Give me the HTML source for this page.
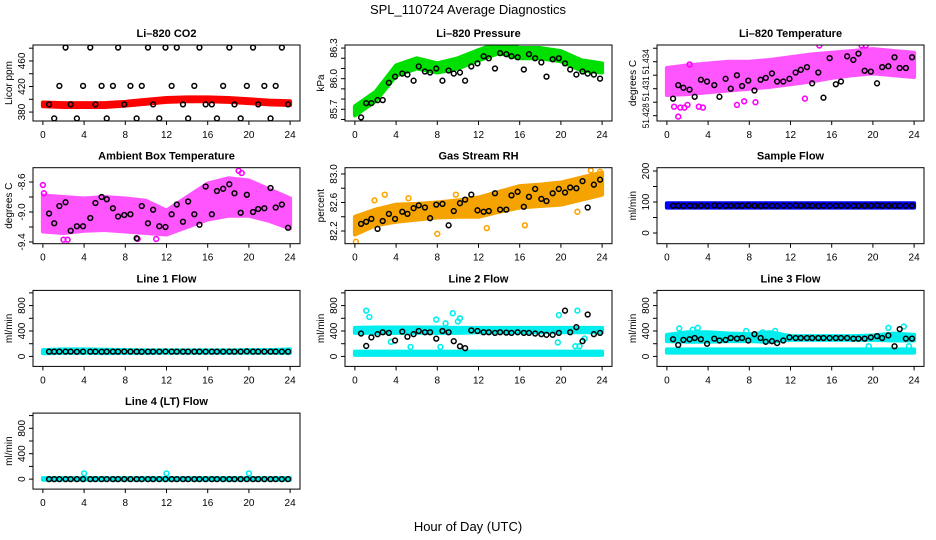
<!DOCTYPE html>
<html><head><meta charset="utf-8"><style>
html,body{margin:0;padding:0;background:#fff;}
svg{display:block;font-family:"Liberation Sans",Arial,sans-serif;}
</style></head><body>
<svg id="fig" width="936" height="540" viewBox="0 0 936 540" xmlns="http://www.w3.org/2000/svg">
<text x="468" y="14" font-size="13" text-anchor="middle">SPL_110724  Average Diagnostics</text>
<text x="468" y="531" font-size="13" text-anchor="middle">Hour of Day (UTC)</text>
</svg>
<script>
// ---- data ----
const bandHours = [0,2,4,6,8,10,12,14,16,18,20,22,24];
const avgHours = [0.6,1.1,1.6,2.2,2.7,3.3,3.9,4.6,5.1,5.7,6.2,6.8,7.3,7.9,8.5,9.1,9.6,10.2,10.7,11.3,11.9,12.5,13.0,13.6,14.1,14.7,15.2,15.8,16.4,16.9,17.5,18.1,18.6,19.2,19.8,20.4,20.9,21.5,22.1,22.6,23.2,23.8];

const co2BandLo = [389,388,388,388,390,393,396,397,397,396,394,392,391];
const co2BandHi = [395,394,394,394,396,399,402,403,403,402,400,398,397];
const co2Avg = [392,370,421,481,392,370,421,481,392,421,370,421,481,392,421,370,421,481,392,370,481,421,481,392,370,421,481,392,392,370,421,481,392,370,421,481,392,421,370,421,481,392];

const presBandLo = [85.64,85.78,86.03,86.10,86.06,86.10,86.18,86.25,86.20,86.20,86.17,86.08,86.06];
const presBandHi = [85.73,85.87,86.13,86.20,86.15,86.20,86.28,86.35,86.30,86.30,86.27,86.18,86.15];
const presAvg = [85.62,85.76,85.76,85.79,85.79,85.96,86.02,86.05,86.04,85.98,86.12,86.07,86.06,86.10,85.98,86.08,86.05,86.06,85.98,86.12,86.15,86.22,86.20,86.10,86.25,86.24,86.22,86.21,86.09,86.24,86.20,86.16,86.02,86.19,86.20,86.15,86.09,86.04,86.07,86.05,86.04,86.00];

const tempBandLo = [51.4303,51.4304,51.4306,51.4308,51.4310,51.4312,51.4315,51.4318,51.4322,51.4325,51.4327,51.4325,51.4323];
const tempBandHi = [51.4333,51.4336,51.4338,51.4340,51.4340,51.4342,51.4345,51.4348,51.4350,51.4352,51.4354,51.4352,51.4350];
const tempAvg = [51.4299,51.4314,51.4311,51.4309,51.4301,51.4320,51.4318,51.4314,51.4301,51.4321,51.4310,51.4325,51.4313,51.4319,51.4308,51.4320,51.4322,51.4327,51.4318,51.4318,51.4321,51.4328,51.4331,51.4334,51.4316,51.4328,51.4300,51.4344,51.4315,51.4318,51.4346,51.4342,51.4349,51.4330,51.4329,51.4316,51.4334,51.4335,51.4345,51.4333,51.4333,51.4345];
const tempOutHours = [0.7,1.1,1.3,1.7,2.0,3.1,3.5,2.2,6.8,7.5,8.6,13.4,14.8,18.9,19.3];
const tempOutVals = [51.4290,51.4279,51.4289,51.4289,51.4292,51.4290,51.4289,51.4337,51.4292,51.4296,51.4295,51.4299,51.4358,51.4358,51.4358];

const ambBandLo = [-9.26,-9.28,-9.25,-9.24,-9.26,-9.28,-9.30,-9.20,-9.10,-9.05,-9.05,-9.12,-9.22];
const ambBandHi = [-8.78,-8.80,-8.82,-8.80,-8.82,-8.85,-8.98,-8.80,-8.62,-8.55,-8.58,-8.70,-8.82];
const ambAvg = [-9.02,-9.15,-8.92,-8.87,-9.25,-9.19,-9.19,-9.08,-8.88,-8.80,-8.83,-8.95,-9.06,-9.04,-9.03,-9.35,-8.92,-9.15,-8.97,-9.19,-9.20,-9.03,-8.90,-9.13,-8.86,-9.03,-9.17,-8.66,-9.03,-8.72,-8.69,-8.63,-8.75,-9.01,-8.77,-9.00,-8.96,-8.95,-8.68,-8.94,-8.90,-9.21];
const ambOutHours = [0,0.1,2.0,2.4,9.2,11.0,19.0,19.3];
const ambOutVals = [-8.64,-8.75,-9.37,-9.37,-9.36,-9.36,-8.45,-8.48];

const rhBandLo = [82.15,82.28,82.33,82.36,82.39,82.40,82.40,82.47,82.53,82.55,82.57,82.64,82.71];
const rhBandHi = [82.40,82.50,82.57,82.58,82.60,82.63,82.67,82.75,82.83,82.85,82.88,82.95,83.02];
const rhAvg = [82.30,82.33,82.37,82.23,82.34,82.44,82.37,82.47,82.44,82.52,82.56,82.53,82.38,82.57,82.58,82.28,82.48,82.59,82.64,82.71,82.49,82.47,82.48,82.73,82.50,82.50,82.70,82.75,82.54,82.68,82.79,82.65,82.62,82.73,82.79,82.74,82.81,82.80,82.90,82.53,82.85,82.92];
const rhOutHours = [0.1,1.9,2.9,5.2,8.0,9.8,12.8,16.5,21.6,22.9,23.8];
const rhOutVals = [82.05,82.63,82.71,82.66,82.16,82.71,82.24,82.28,82.47,83.05,83.03];

const sampleBandLo = [82,82,82,82,82,82,82,82,82,82,82,82,82];
const sampleBandHi = [96,96,96,96,96,96,96,96,96,96,96,96,96];
const sampleAvg = [88,88,87,88,87,88,87,89,88,88,88,88,88,89,88,87,88,88,87,88,88,89,88,88,88,87,88,88,88,88,88,88,88,88,88,89,88,88,88,88,88,88];

const line1BandLo = [50,55,55,52,55,55,58,58,58,58,58,58,55];
const line1BandHi = [100,110,110,105,100,95,95,95,95,95,100,100,110];
const line1Avg = [75,75,75,76,75,74,76,75,75,74,75,76,75,78,75,75,74,75,75,76,78,75,75,75,75,75,75,76,75,75,75,75,75,75,80,75,75,75,75,75,75,75];

const line2BandLo = [370,370,370,370,370,370,380,380,380,380,380,380,380];
const line2BandHi = [450,455,455,455,455,450,450,450,450,450,450,450,450];
const line2LowLo = [25,25,25,25,25,25,25,25,25,25,25,25,25];
const line2LowHi = [75,75,75,75,75,75,75,75,75,75,75,75,75];
const line2Avg = [360,165,300,350,380,370,250,390,310,350,400,380,380,280,400,380,240,160,130,410,400,380,380,370,380,375,370,380,370,370,360,350,340,340,370,720,380,460,240,660,350,370];
const line2OutHours = [1.1,1.4,3.5,5.4,7.9,8.3,8.8,9.5,10.0,10.2,19.7,19.8,21.4,21.6,21.8,22.3];
const line2OutVals = [720,620,230,150,580,150,520,680,550,600,220,650,160,720,160,280];

const line3BandLo = [240,230,230,240,240,230,260,260,260,260,260,250,250];
const line3BandHi = [340,380,380,360,350,380,320,320,320,320,330,360,340];
const line3LowLo = [60,60,60,60,60,60,60,60,60,60,60,60,60];
const line3LowHi = [110,110,110,110,110,110,110,110,110,110,110,110,110];
const line3Avg = [270,180,260,270,290,270,200,280,250,260,290,280,290,250,350,290,230,240,210,250,300,290,290,290,290,290,290,290,290,290,290,280,280,280,300,320,290,330,160,430,280,280];
const line3OutHours = [1.2,2.5,3.0,7.7,9.3,10.5,19.6,21.5,23.0,23.5];
const line3OutVals = [440,420,450,400,380,400,160,450,470,160];

const line4BandLo = [-10,-10,-10,-10,-10,-10,-10,-10,-10,-10,-10,-10,-10];
const line4BandHi = [15,15,15,15,15,15,15,15,15,15,15,15,15];
const line4Avg = [0,0,0,0,0,0,0,0,0,0,0,0,0,0,0,0,0,0,0,0,0,0,0,0,0,0,0,0,0,0,0,0,0,0,0,0,0,0,0,0,0,0];
const line4OutHours = [4,12,20];
const line4OutVals = [90,90,90];

const xTicks = [0,4,8,12,16,20,24];
const flowTicks = [0,200,400,600,800,1000];
const flowLabels = [0,400,800];

const panels = [
 {name:'li820-co2',title:'Li\u2013820 CO2',ylab:'Licor ppm',c:0,r:0,ymin:366,ymax:485,ticks:[380,400,420,440,460,480],labels:[380,420,460],fmt:0,
  bands:[[co2BandLo,co2BandHi,'#ff0000']],out:[],avg:co2Avg},
 {name:'li820-pressure',title:'Li\u2013820 Pressure',ylab:'kPa',c:1,r:0,ymin:85.585,ymax:86.33,ticks:[85.6,85.7,85.8,85.9,86.0,86.1,86.2,86.3],labels:[85.7,86.0,86.3],fmt:1,
  bands:[[presBandLo,presBandHi,'#00e000']],out:[],avg:presAvg},
 {name:'li820-temperature',title:'Li\u2013820 Temperature',ylab:'degrees C',c:2,r:0,ymin:51.42741,ymax:51.43586,ticks:[51.428,51.4295,51.431,51.4325,51.434,51.4355],labels:[51.428,51.431,51.434],fmt:3,lfs:9,lw:25,
  bands:[[tempBandLo,tempBandHi,'#ff55ff']],out:[[tempOutHours,tempOutVals,'#ff00ff']],avg:tempAvg},
 {name:'ambient-box-temperature',title:'Ambient Box Temperature',ylab:'degrees C',c:0,r:1,ymin:-9.423,ymax:-8.409,ticks:[-9.4,-9.2,-9.0,-8.8,-8.6],labels:[-9.4,-9.0,-8.6],fmt:1,
  bands:[[ambBandLo,ambBandHi,'#ff55ff']],out:[[ambOutHours,ambOutVals,'#ff00ff']],avg:ambAvg},
 {name:'gas-stream-rh',title:'Gas Stream RH',ylab:'percent',c:1,r:1,ymin:82.022,ymax:83.088,ticks:[82.2,82.4,82.6,82.8,83.0],labels:[82.2,82.6,83.0],fmt:1,
  bands:[[rhBandLo,rhBandHi,'#f5a300']],out:[[rhOutHours,rhOutVals,'#ffa500']],avg:rhAvg},
 {name:'sample-flow',title:'Sample Flow',ylab:'ml/min',c:2,r:1,ymin:-34.5,ymax:210.6,ticks:[0,50,100,150,200],labels:[0,100,200],fmt:0,
  bands:[[sampleBandLo,sampleBandHi,'#0000ff']],out:[],avg:sampleAvg},
 {name:'line-1-flow',title:'Line 1 Flow',ylab:'ml/min',c:0,r:2,ymin:-157,ymax:1039,ticks:flowTicks,labels:flowLabels,fmt:0,
  bands:[[line1BandLo,line1BandHi,'#00eeee']],out:[],avg:line1Avg},
 {name:'line-2-flow',title:'Line 2 Flow',ylab:'ml/min',c:1,r:2,ymin:-157,ymax:1039,ticks:flowTicks,labels:flowLabels,fmt:0,
  bands:[[line2BandLo,line2BandHi,'#00eeee'],[line2LowLo,line2LowHi,'#00eeee']],out:[[line2OutHours,line2OutVals,'#00eeee']],avg:line2Avg},
 {name:'line-3-flow',title:'Line 3 Flow',ylab:'ml/min',c:2,r:2,ymin:-157,ymax:1039,ticks:flowTicks,labels:flowLabels,fmt:0,
  bands:[[line3BandLo,line3BandHi,'#00eeee'],[line3LowLo,line3LowHi,'#00eeee']],out:[[line3OutHours,line3OutVals,'#00eeee']],avg:line3Avg},
 {name:'line-4-lt-flow',title:'Line 4 (LT) Flow',ylab:'ml/min',c:0,r:3,ymin:-157,ymax:1039,ticks:flowTicks,labels:flowLabels,fmt:0,
  bands:[[line4BandLo,line4BandHi,'#00eeee']],out:[[line4OutHours,line4OutVals,'#00eeee']],avg:line4Avg}
];

// ---- drawing ----
const NS='http://www.w3.org/2000/svg';
const fig=document.getElementById('fig');
function mk(tag,attrs,parent){const e=document.createElementNS(NS,tag);for(const k in attrs)e.setAttribute(k,attrs[k]);parent.appendChild(e);return e;}
const W=267,H=76;
panels.forEach(p=>{
  const L=33+312*p.c, T=45+122.7*p.r, B=T+H, R=L+W;
  const xs=h=>L+W*(h+0.96)/25.92;
  const ys=v=>B-H*(v-p.ymin)/(p.ymax-p.ymin);
  const g=mk('g',{},fig);
  
  
  const t=mk('text',{x:(L+R)/2,y:T-8,'font-size':11,'font-weight':'bold','text-anchor':'middle'},g);
  t.textContent=p.title;
  
  
  const yl=mk('text',{x:0,y:0,'font-size':10,'text-anchor':'middle',transform:`translate(${L-21},${(T+B)/2}) rotate(-90)`},g);
  yl.textContent=p.ylab;
  
  
  const clip=mk('clipPath',{id:'clip'+p.name},g);
  mk('rect',{x:L,y:T,width:W,height:H},clip);
  const pg=mk('g',{'clip-path':`url(#clip${p.name})`},g);
  p.bands.forEach(([lo,hi,col])=>{
    let pts=bandHours.map((h,i)=>xs(h)+','+ys(hi[i]));
    pts=pts.concat(bandHours.map((h,i)=>xs(h)+','+ys(lo[i])).reverse());
    const poly=mk('polygon',{points:pts.join(' '),fill:col,stroke:col,'stroke-width':4,'stroke-linejoin':'round'},pg);
    
    
  });
  p.out.forEach(([hs,vs,col])=>{
    hs.forEach((h,i)=>{
      const c=mk('circle',{cx:xs(h),cy:ys(vs[i]),r:2.4,fill:'none',stroke:col,'stroke-width':1.6},pg);
      
      
    });
  });
  avgHours.forEach((h,i)=>{
    const c=mk('circle',{cx:xs(h),cy:ys(p.avg[i]),r:2.4,fill:'none',stroke:'#000','stroke-width':1.5},pg);
    
    
  });
  const box=mk('rect',{x:L,y:T,width:W,height:H,fill:'none',stroke:'#000','stroke-width':1},g);
  
  
  xTicks.forEach(h=>{
    mk('line',{x1:xs(h),x2:xs(h),y1:B,y2:B+4,stroke:'#000'},g);
    const tl=mk('text',{x:xs(h),y:B+17,'font-size':10,'text-anchor':'middle'},g);
    tl.textContent=h;
    
    
  });
  p.ticks.forEach(v=>{ if(ys(v)>=T-1&&ys(v)<=B+1) mk('line',{x1:L-4,x2:L,y1:ys(v),y2:ys(v),stroke:'#000'},g); });
  p.labels.forEach(v=>{
    const attrs={x:0,y:0,'font-size':p.lfs||10,'text-anchor':'middle',transform:`translate(${L-8},${ys(v)}) rotate(-90)`};
    if(p.lw){attrs.textLength=p.lw;attrs.lengthAdjust='spacingAndGlyphs';}
    const tl=mk('text',attrs,g);
    tl.textContent=v.toFixed(p.fmt);
    
    
  });
});
</script>
</body></html>
